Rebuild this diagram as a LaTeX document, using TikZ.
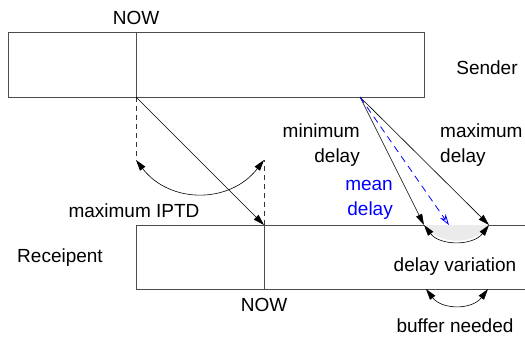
\documentclass[tikz,border=0pt]{standalone}
\usepackage{fontspec}
\setmainfont{Liberation Sans}
\usetikzlibrary{arrows.meta,positioning}
\tikzset{
  frame/.style={draw=black!70, line width=0.9pt},
  msg arrow/.style={-{Triangle[length=11pt,width=6.5pt]}, line width=0.6pt, draw=black},
  both arrow/.style={{Triangle[length=11pt,width=6.5pt]}-{Triangle[length=11pt,width=6.5pt]}, line width=0.6pt, draw=black},
  mean arrow/.style={-{Stealth[open,length=11pt,width=7pt]}, line width=0.8pt, draw=blue, dash pattern=on 7pt off 5pt},
  guide/.style={draw=black!80, line width=0.6pt, dash pattern=on 5pt off 4pt},
  label/.style={font=\fontsize{19}{25.5}\selectfont, inner sep=0pt},
}
\begin{document}
\begin{tikzpicture}[x=1pt, y=-1pt]
  \useasboundingbox (0,0) rectangle (525,343);

  % Sender timeline
  \draw[frame] (8,32) rectangle (424,97);
  \draw[frame] (136,32) -- (136,97);
  \coordinate (snow) at (136,97);
  \node[label] (nowtop) at (136,18) {NOW};
  \node[label] (sender) at (487,68) {Sender};

  % Receipent timeline
  \draw[frame] (525,225) -| (136,289) -- (525,289);
  \draw[frame] (264,225) -- (264,289);
  \coordinate (rnow) at (264,225);
  \node[label] (nowbot) at (264,305) {NOW};
  \node[label] (recv) at (60,258) {Receipent};

  % Maximum IPTD
  \coordinate (sguide) at (136,160);
  \coordinate (rguide) at (264,160);
  \draw[guide] (snow) -- (sguide);
  \draw[guide] (rnow) -- (rguide);
  \draw[msg arrow] (snow) -- (rnow);
  \draw[both arrow] (sguide) .. controls (170,204) and (230,204) .. (rguide);
  \node[label] (iptd) at (134,211) {maximum IPTD};

  % Delay fan
  \coordinate (apex) at (360,97);
  \coordinate (mintip) at (424,225);
  \coordinate (meantip) at (449,225);
  \coordinate (maxtip) at (489,225);
  \fill[black!8] (mintip) .. controls (440,246) and (473,246) .. (maxtip) -- cycle;
  \draw[both arrow] (mintip) .. controls (440,246) and (473,246) .. (maxtip);
  \draw[msg arrow] (apex) -- (mintip);
  \draw[msg arrow] (apex) -- (maxtip);
  \draw[mean arrow] (apex) -- (meantip);
  \node[label, align=right, anchor=east] (mindelay) at (360,145) {minimum\\delay};
  \node[label, align=left, anchor=west] (maxdelay) at (440,145) {maximum\\delay};
  \node[label, align=right, anchor=east, text=blue] (meandelay) at (393,200) {mean\\delay};
  \node[label] (variation) at (455,267) {delay variation};

  % Buffer
  \coordinate (bufl) at (426,289);
  \coordinate (bufr) at (488,289);
  \draw[both arrow] (bufl) .. controls (442,310) and (472,310) .. (bufr);
  \node[label] (buffer) at (455,326) {buffer needed};

\end{tikzpicture}
\end{document}
